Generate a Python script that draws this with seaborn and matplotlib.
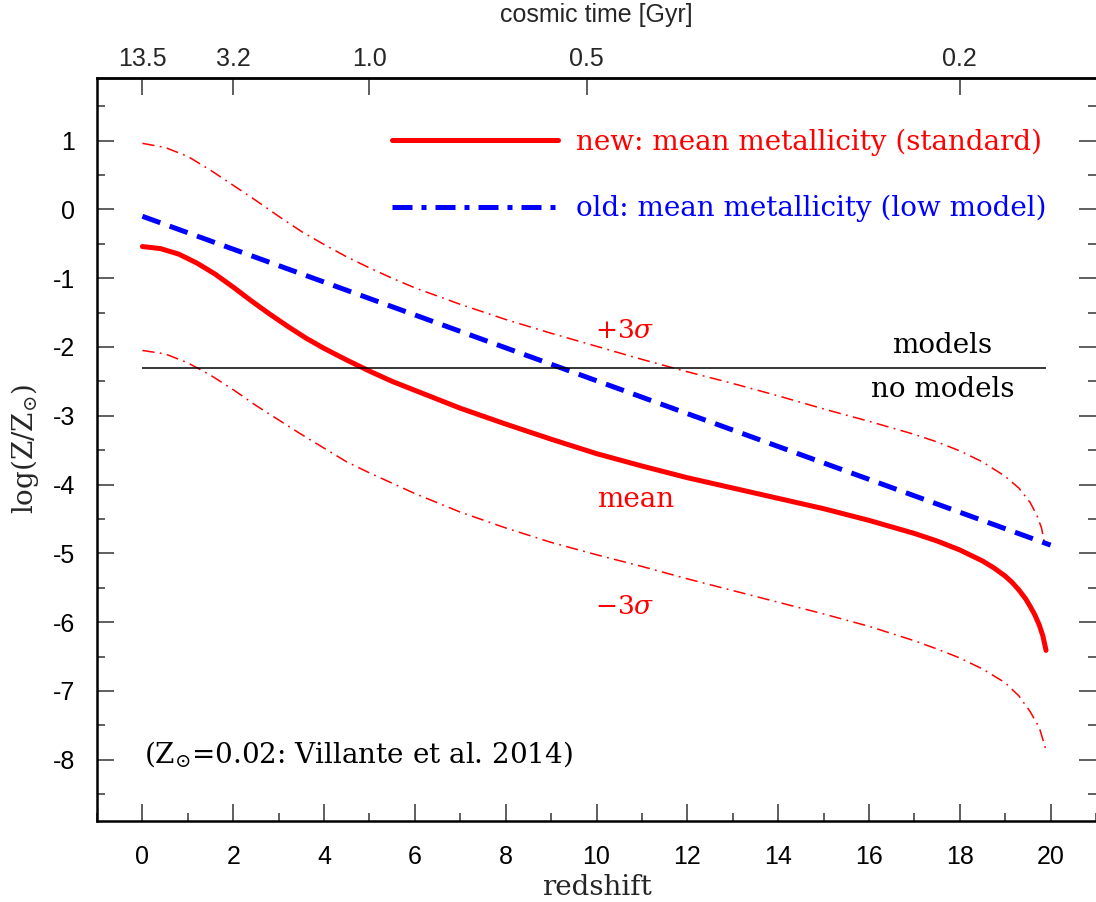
import matplotlib
matplotlib.use("Agg")
import matplotlib.pyplot as plt
import seaborn as sns
from matplotlib.lines import Line2D
from matplotlib.ticker import MultipleLocator

# ---------------- data ----------------
mean_z = [0, 0.4, 0.8, 1.2, 1.6, 2.0, 2.4, 2.8, 3.2, 3.6, 4.0, 4.5, 5.0, 5.5, 6.0,
          6.5, 7.0, 8.0, 9.0, 10.0, 11.0, 12.0, 13.0, 14.0, 15.0, 16.0, 17.0, 17.5,
          18.0, 18.5, 18.75, 19.0, 19.15, 19.3, 19.45, 19.55, 19.65, 19.75, 19.83,
          19.9]
mean_v = [-0.54, -0.57, -0.65, -0.78, -0.94, -1.13, -1.33, -1.52, -1.70, -1.87,
          -2.02, -2.19, -2.35, -2.50, -2.63, -2.76, -2.89, -3.12, -3.34, -3.55,
          -3.73, -3.90, -4.05, -4.20, -4.35, -4.52, -4.71, -4.82, -4.95, -5.11,
          -5.21, -5.33, -5.42, -5.53, -5.66, -5.77, -5.89, -6.04, -6.20, -6.41]

plus_z = [0, 0.5, 1.0, 1.5, 2.0, 2.5, 3.0, 3.5, 4.0, 4.5, 5.0, 5.5, 6.0, 7.0, 8.0,
          9.0, 10.0, 11.0, 12.0, 13.0, 14.0, 15.0, 16.0, 17.0, 17.5, 18.0, 18.5,
          19.0, 19.3, 19.55, 19.7, 19.8, 19.86]
plus_v = [0.96, 0.90, 0.77, 0.57, 0.35, 0.13, -0.10, -0.32, -0.51, -0.69, -0.85,
          -1.00, -1.14, -1.38, -1.60, -1.80, -1.99, -2.18, -2.36, -2.53, -2.71,
          -2.90, -3.08, -3.27, -3.38, -3.51, -3.67, -3.88, -4.05, -4.26, -4.45,
          -4.63, -4.83]

minus_z = [0, 0.5, 1.0, 1.5, 2.0, 2.5, 3.0, 3.5, 4.0, 4.5, 5.0, 5.5, 6.0, 7.0, 8.0,
           9.0, 10.0, 11.0, 12.0, 13.0, 14.0, 15.0, 16.0, 17.0, 17.5, 18.0, 18.5,
           19.0, 19.3, 19.55, 19.75, 19.9]
minus_v = [-2.05, -2.10, -2.23, -2.41, -2.62, -2.85, -3.06, -3.27, -3.47, -3.67,
           -3.83, -3.98, -4.13, -4.40, -4.63, -4.84, -5.02, -5.19, -5.37, -5.54,
           -5.71, -5.88, -6.06, -6.27, -6.39, -6.52, -6.68, -6.88, -7.07, -7.30,
           -7.53, -7.86]

old_z = [0, 20]
old_v = [-0.1, -4.88]

models_limit = -2.3
models_z = [0, 19.9]

top_tick_z = [0, 2, 5, 9.78, 18]
top_tick_labels = ["13.5", "3.2", "1.0", "0.5", "0.2"]

legend_labels = ["new: mean metallicity (standard)",
                 "old: mean metallicity (low model)"]

# ---------------- style ----------------
sns.set_theme(style="ticks")
plt.rcParams["font.family"] = ["Liberation Sans", "DejaVu Sans"]
plt.rcParams["mathtext.fontset"] = "dejavuserif"
plt.rcParams["axes.unicode_minus"] = False

RED = "#ff0000"
BLUE = "#0000ff"
SERIF = "DejaVu Serif"

fig = plt.figure(figsize=(10.96, 9.02), dpi=100)
ax = fig.add_axes([97 / 1096, 81 / 902, 999 / 1096, 743 / 902])

# curves
sns.lineplot(x=plus_z, y=plus_v, ax=ax, color=RED, linewidth=1.1,
             estimator=None, sort=False)
ax.lines[-1].set_dashes((8, 3.5, 1.2, 3.5))
sns.lineplot(x=minus_z, y=minus_v, ax=ax, color=RED, linewidth=1.1,
             estimator=None, sort=False)
ax.lines[-1].set_dashes((8, 3.5, 1.2, 3.5))
sns.lineplot(x=old_z, y=old_v, ax=ax, color=BLUE, linewidth=3.6,
             estimator=None, sort=False)
ax.lines[-1].set_dashes((3.8, 2.0))
sns.lineplot(x=mean_z, y=mean_v, ax=ax, color=RED, linewidth=3.6,
             estimator=None, sort=False)
ax.lines[-1].set_solid_joinstyle("round")
ax.hlines(models_limit, models_z[0], models_z[1], color="black", linewidth=1.1)

ax.set_xlim(-1, 21)
ax.set_ylim(-8.89, 1.91)

# ticks
ax.xaxis.set_major_locator(MultipleLocator(2))
ax.xaxis.set_minor_locator(MultipleLocator(1))
ax.yaxis.set_major_locator(MultipleLocator(1))
ax.yaxis.set_minor_locator(MultipleLocator(0.5))
tick_col = "#333333"
ax.tick_params(axis="x", which="major", direction="in", length=12.2, width=1.1,
               bottom=True, top=False, labelsize=18, pad=17, color=tick_col,
               labelcolor="black")
ax.tick_params(axis="x", which="minor", direction="in", length=6.1, width=1.1,
               bottom=True, top=False, color=tick_col)
ax.tick_params(axis="y", which="major", direction="in", length=12.2, width=1.1,
               left=True, right=True, labelsize=18, pad=16, color=tick_col,
               labelcolor="black")
ax.tick_params(axis="y", which="minor", direction="in", length=6.1, width=1.1,
               left=True, right=True, color=tick_col)

for s in ["left", "bottom", "top"]:
    ax.spines[s].set_linewidth(1.8)
    ax.spines[s].set_color("black")
ax.spines["right"].set_visible(False)

sec = ax.secondary_xaxis("top")
sec.set_xticks(top_tick_z)
sec.set_xticklabels(top_tick_labels)
sec.tick_params(axis="x", which="major", direction="in", length=12.2, width=1.1,
                labelsize=18, pad=5, color=tick_col)
sec.tick_params(axis="x", which="minor", length=0)
sec.spines["top"].set_linewidth(1.8)
sec.set_xlabel("cosmic time [Gyr]", fontsize=18, labelpad=18)

ax.set_xlabel("redshift", family=SERIF, fontsize=20, labelpad=4)
ax.set_ylabel(r"$\mathrm{log(Z/Z_{\odot})}$", fontsize=20, labelpad=8)

# annotations
ax.text(10.62, -1.87, r"$+3\sigma$", color=RED, ha="center", va="baseline",
        fontsize=19)
ax.text(10.85, -4.33, "mean", color=RED, ha="center", va="baseline",
        family=SERIF, fontsize=20)
ax.text(10.62, -5.88, r"$-3\sigma$", color=RED, ha="center", va="baseline",
        fontsize=19)
ax.text(17.61, -2.09, "models", color="black", ha="center", va="baseline",
        family=SERIF, fontsize=20)
ax.text(17.63, -2.73, "no models", color="black", ha="center", va="baseline",
        family=SERIF, fontsize=20)
ax.text(0.03, -8.04, r"(Z$_{\odot}$=0.02: Villante et al. 2014)", color="black",
        ha="left", va="baseline", family=SERIF, fontsize=20)

# legend
handles = [Line2D([], [], color=RED, linewidth=3.6),
           Line2D([], [], color=BLUE, linewidth=3.6, dashes=(4, 1.8, 1, 1.8))]
ax.legend(handles, legend_labels, loc="center left",
          bbox_to_anchor=(0.2953, 0.8688), frameon=False, borderpad=0,
          borderaxespad=0, handlelength=5.97, handletextpad=0.65,
          labelspacing=1.4, prop={"family": SERIF, "size": 20},
          labelcolor=[RED, BLUE])

fig.savefig("out.png", dpi=100)
